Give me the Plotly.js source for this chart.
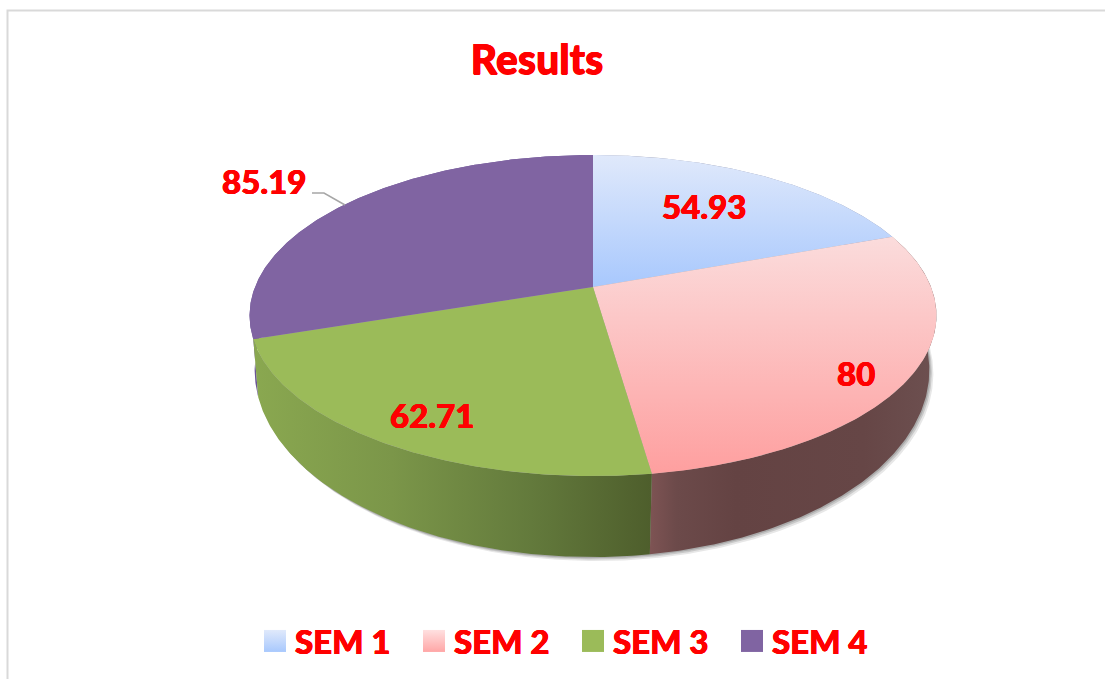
<!DOCTYPE html>
<html>
<head>
<meta charset="utf-8">
<script src="https://cdn.plot.ly/plotly-3.0.1.min.js"></script>
<style>html,body{margin:0;padding:0;background:#fff}#chart{width:1105px;height:679px}</style>
</head>
<body>
<div id="chart"></div>
<script>
// ---- data ----
const categories = ['SEM 1', 'SEM 2', 'SEM 3', 'SEM 4'];
const values = [54.93, 80, 62.71, 85.19];

// ---- styles ----
const FONT = 'Lato, "Open Sans", sans-serif';
const RED = '#ff0000';
const HEAVY = '0.4px 0 0 #ff0000, -0.4px 0 0 #ff0000, 0 0.4px 0 #ff0000';
const topScales = [
  {y0: 155, y1: 287, a: '#e0e9fb', b: '#a8c8fd'},
  {y0: 237, y1: 474, a: '#fbdcdc', b: '#fe9f9f'},
  {y0: 155, y1: 475, a: '#9bbb59', b: '#9bbb59'},
  {y0: 155, y1: 340, a: '#8064a2', b: '#8064a2'}
];
const swatches = [
  {a: '#e0e9fb', b: '#a8c8fd'},
  {a: '#ffe0e0', b: '#ffa6a6'},
  {a: '#9bbb59', b: '#9bbb59'},
  {a: '#8064a2', b: '#8064a2'}
];
const wallScales = [
  [[0, '#8b8fa8'], [1, '#8b8fa8']],
  [[0, '#7d5353'], [0.09, '#6c4a4a'], [0.3, '#644343'], [0.75, '#664646'], [1, '#6d5050']],
  [[0, '#8aa850'], [0.35, '#7b9649'], [0.7, '#637a3c'], [1, '#4e5e2c']],
  [[0, '#6a5596'], [1, '#6a5596']]
];
const wallX = [[590, 930], [651, 935], [252, 651], [250, 600]];

// ---- projection of the tilted disc onto the axes ----
const K = 0.1776;
const TOP = {cx: 593, r: 338, a: -104.5, b: 287};
const BOT = {cx: 592, r: 332, a: -121.3, b: 336.8};
function project(deg, f, disc) {
  const t = deg * Math.PI / 180, u = f * Math.sin(t), v = f * Math.cos(t), w = 1 + K * v;
  return [disc.cx + disc.r * u / w, (disc.a * v + disc.b) / w];
}
function arc(a0, a1, disc) {
  const pts = [], n = Math.max(8, Math.ceil(Math.abs(a1 - a0) * 2));
  for (let i = 0; i <= n; i++) pts.push(project(a0 + (a1 - a0) * i / n, 1, disc));
  return pts;
}
const total = values.reduce((s, v) => s + v, 0);
let acc = 0;
const spans = values.map(v => { const s = [acc, acc + v / total * 360]; acc = s[1]; return s; });

const traces = [];
function poly(pts, extra) {
  traces.push(Object.assign({
    type: 'scatter', mode: 'lines', x: pts.map(p => p[0]), y: pts.map(p => p[1]),
    fill: 'toself', line: {width: 0}, hoverinfo: 'skip', showlegend: false
  }, extra));
}
// soft shadow below the right-hand wall
[[4, 0.12], [2.5, 0.18], [1.2, 0.22]].forEach(([d, o]) => {
  const pts = arc(0, 360, BOT).map(p => [p[0] + d, p[1] + d]);
  poly(pts, {fillcolor: 'rgba(60,60,60,' + o + ')'});
});
// walls, back to front
[0, 3, 1, 2].forEach(i => {
  const pts = arc(spans[i][0], spans[i][1], TOP).concat(arc(spans[i][1], spans[i][0], BOT));
  poly(pts, {fillgradient: {type: 'horizontal', start: wallX[i][0], stop: wallX[i][1], colorscale: wallScales[i]}});
});
// top faces
values.forEach((v, i) => {
  const pts = [project(0, 0, TOP)].concat(arc(spans[i][0], spans[i][1], TOP));
  pts.push(pts[0]);
  poly(pts, {
    name: categories[i],
    fillgradient: {type: 'vertical', start: topScales[i].y0, stop: topScales[i].y1,
      colorscale: [[0, topScales[i].a], [1, topScales[i].b]]}
  });
});
// leader line of the SEM 4 label
traces.push({type: 'scatter', mode: 'lines', x: [312, 324, 345], y: [193, 193, 205],
  line: {color: '#a6a6a6', width: 1.5}, hoverinfo: 'skip', showlegend: false});
// legend entries
categories.forEach((c, i) => traces.push({
  type: 'scatter', mode: 'markers', name: c, x: [null], y: [null],
  marker: {symbol: 'square', size: 16, color: swatches[i].a,
    gradient: {type: 'vertical', color: swatches[i].b}}
}));

const labelPos = [[704, 206], [856, 373], [432, 415], [264, 181]];
const layout = {
  width: 1105, height: 679,
  margin: {l: 0, r: 0, t: 0, b: 0},
  paper_bgcolor: '#ffffff', plot_bgcolor: '#ffffff',
  font: {family: FONT, color: RED},
  title: {text: 'Results', x: 537 / 1105, xanchor: 'center', xref: 'paper',
    y: 1 - 60 / 679, yanchor: 'middle', yref: 'paper',
    font: {family: FONT, size: 41, weight: 900, color: RED, shadow: HEAVY}},
  xaxis: {range: [0, 1105], visible: false, fixedrange: true},
  yaxis: {range: [679, 0], visible: false, fixedrange: true},
  showlegend: true,
  legend: {orientation: 'h', x: 255 / 1105, xanchor: 'left', y: 1 - 641 / 679, yanchor: 'middle',
    entrywidth: 114, entrywidthmode: 'pixels', bgcolor: 'rgba(0,0,0,0)',
    font: {family: FONT, size: 33, weight: 900, color: RED, shadow: HEAVY}},
  shapes: [{type: 'path', path: 'M7.5,679 L7.5,10.5 L1105,10.5', line: {color: '#d9d9d9', width: 2}}],
  annotations: values.map((v, i) => ({
    x: labelPos[i][0], y: labelPos[i][1], xref: 'x', yref: 'y', showarrow: false,
    text: String(v), xanchor: 'center', yanchor: 'middle',
    font: {family: FONT, size: 33, weight: 900, color: RED, shadow: HEAVY}
  }))
};
Plotly.newPlot('chart', traces, layout, {displayModeBar: false, staticPlot: true}).then(gd => {
  gd.querySelectorAll('.legend .legendpoints path.scatterpts').forEach(p => {
    p.setAttribute('transform', (p.getAttribute('transform') || '') + ' scale(1.375)');
  });
});
</script>
</body>
</html>
